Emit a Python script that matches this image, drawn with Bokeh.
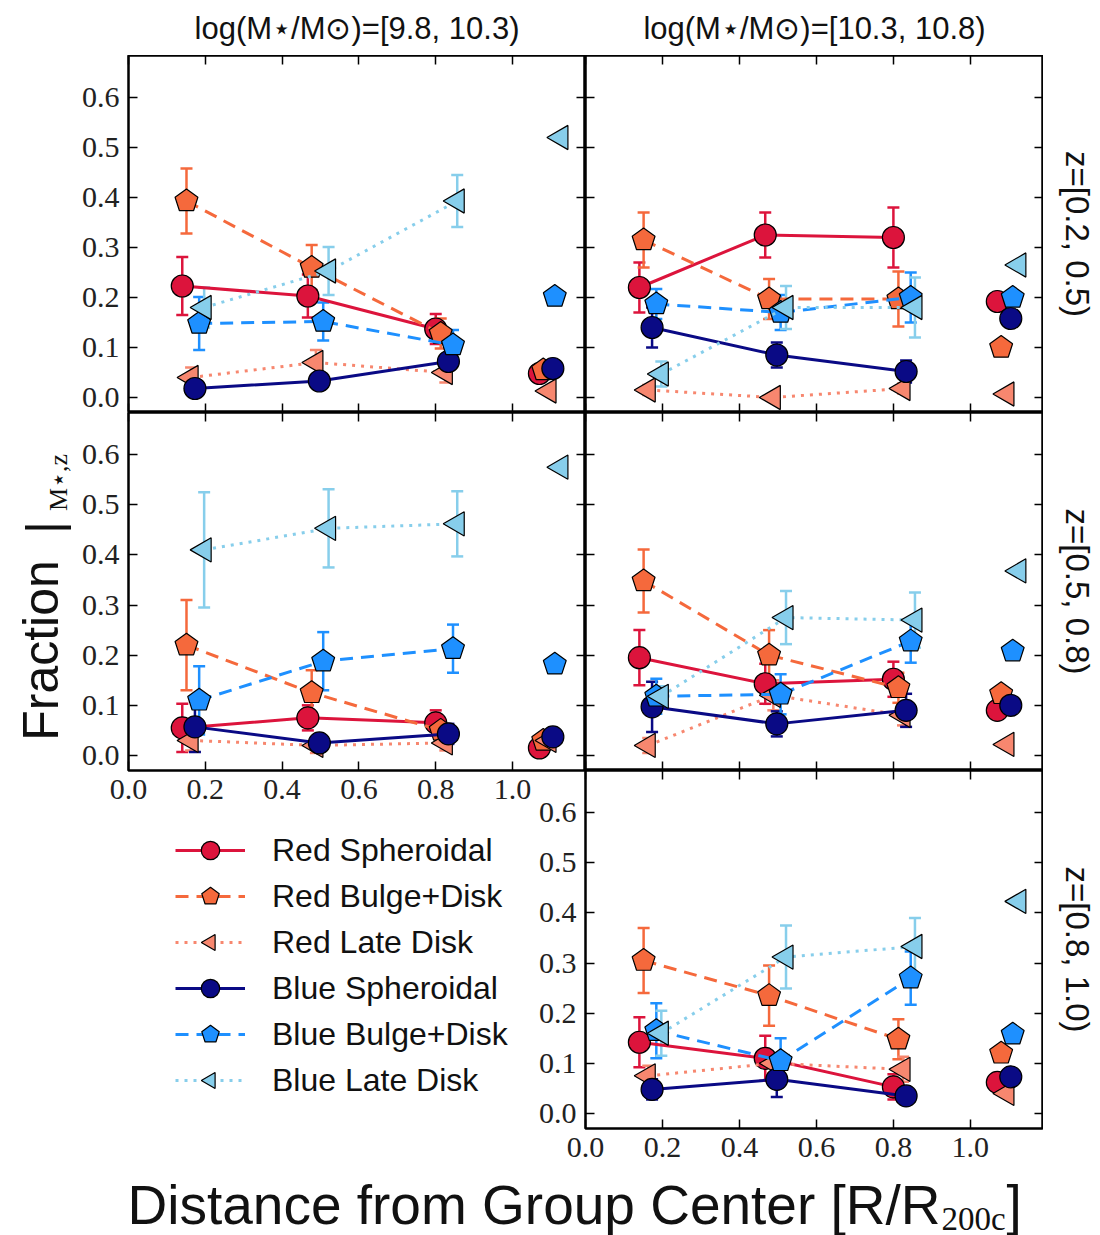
import math
from bokeh.plotting import figure
from bokeh.models import (Range1d, LinearAxis, FixedTicker, ColumnDataSource, Whisker,
                          TeeHead, Label, Legend, LegendItem, GridBox, PrintfTickFormatter)
from bokeh.embed import file_html
from bokeh.resources import INLINE

# ---------------- data ----------------
SERIES_KEYS = ["RS", "RB", "RL", "BS", "BB", "BL"]
SERIES_NAMES = ["Red Spheroidal", "Red Bulge+Disk", "Red Late Disk",
                "Blue Spheroidal", "Blue Bulge+Disk", "Blue Late Disk"]
X_TICKS = [0.0, 0.2, 0.4, 0.6, 0.8, 1.0]
Y_TICKS = [0.0, 0.1, 0.2, 0.3, 0.4, 0.5, 0.6]
MASS_BINS = ["log(M\u22c6/M\u2299)=[9.8, 10.3)", "log(M\u22c6/M\u2299)=[10.3, 10.8)"]
Z_BINS = ["z=[0.2, 0.5)", "z=[0.5, 0.8)", "z=[0.8, 1.0)"]
Y_LABEL = ["Fraction", "|", "M\u22c6,z"]
X_LABEL = ["Distance from Group Center [R/R", "200c", "]"]

# radial positions (R/R200c) of each series (4th point = outside groups)
X_RS = [0.140, 0.467, 0.800, 1.070]
X_RB = [0.151, 0.477, 0.813, 1.080]
X_RL = [0.163, 0.488, 0.825, 1.095]
X_BS = [0.173, 0.497, 0.833, 1.105]
X_BB = [0.184, 0.507, 0.845, 1.110]
X_BL = [0.197, 0.521, 0.856, 1.126]

# top-left: mass [9.8,10.3), z [0.2,0.5)
TL_FRAC = {"RS": [0.223, 0.203, 0.137, 0.048], "RB": [0.393, 0.260, 0.128, 0.055],
           "RL": [0.040, 0.070, 0.050, 0.013], "BS": [0.018, 0.033, 0.072, 0.058],
           "BB": [0.148, 0.152, 0.105, 0.202], "BL": [0.180, 0.253, 0.393, 0.520]}
TL_ERR = {"RS": [0.058, 0.043, 0.030], "RB": [0.065, 0.045, 0.030],
          "RL": [0.020, 0.025, 0.020], "BS": [0.010, 0.010, 0.012],
          "BB": [0.053, 0.038, 0.030], "BL": [0.040, 0.048, 0.052]}
# top-right: mass [10.3,10.8), z [0.2,0.5)
TR_FRAC = {"RS": [0.220, 0.325, 0.320, 0.192], "RB": [0.315, 0.197, 0.197, 0.100],
           "RL": [0.015, 0.000, 0.018, 0.007], "BS": [0.140, 0.085, 0.052, 0.158],
           "BB": [0.187, 0.170, 0.200, 0.200], "BL": [0.047, 0.180, 0.180, 0.265]}
TR_ERR = {"RS": [0.050, 0.045, 0.060], "RB": [0.055, 0.040, 0.055],
          "RL": [0.010, 0.008, 0.010], "BS": [0.040, 0.025, 0.022],
          "BB": [0.030, 0.035, 0.050], "BL": [0.025, 0.043, 0.060]}
# middle-left: mass [9.8,10.3), z [0.5,0.8)
ML_FRAC = {"RS": [0.055, 0.075, 0.065, 0.015], "RB": [0.220, 0.125, 0.050, 0.030],
           "RL": [0.030, 0.020, 0.025, 0.030], "BS": [0.057, 0.025, 0.043, 0.037],
           "BB": [0.110, 0.188, 0.213, 0.182], "BL": [0.410, 0.453, 0.462, 0.575]}
ML_ERR = {"RS": [0.048, 0.025, 0.025], "RB": [0.090, 0.045, 0.020],
          "RL": [0.020, 0.015, 0.015], "BS": [0.050, 0.015, 0.020],
          "BB": [0.068, 0.058, 0.048], "BL": [0.115, 0.078, 0.065]}
# middle-right: mass [10.3,10.8), z [0.5,0.8)
MR_FRAC = {"RS": [0.195, 0.143, 0.152, 0.090], "RB": [0.348, 0.200, 0.135, 0.123],
           "RL": [0.020, 0.120, 0.080, 0.022], "BS": [0.097, 0.063, 0.090, 0.100],
           "BB": [0.118, 0.122, 0.228, 0.208], "BL": [0.118, 0.275, 0.270, 0.368]}
MR_ERR = {"RS": [0.055, 0.040, 0.035], "RB": [0.063, 0.050, 0.030],
          "RL": [0.015, 0.030, 0.020], "BS": [0.050, 0.025, 0.033],
          "BB": [0.035, 0.040, 0.043], "BL": [0.020, 0.053, 0.055]}
# bottom-right: mass [10.3,10.8), z [0.8,1.0)
BR_FRAC = {"RS": [0.142, 0.110, 0.053, 0.062], "RB": [0.305, 0.235, 0.148, 0.120],
           "RL": [0.075, 0.100, 0.088, 0.040], "BS": [0.048, 0.068, 0.035, 0.073],
           "BB": [0.165, 0.105, 0.270, 0.158], "BL": [0.160, 0.312, 0.333, 0.423]}
BR_ERR = {"RS": [0.050, 0.045, 0.025], "RB": [0.065, 0.060, 0.040],
          "RL": [0.020, 0.020, 0.025], "BS": [0.020, 0.035, 0.012],
          "BB": [0.055, 0.045, 0.053], "BL": [0.045, 0.063, 0.057]}

X_POS = {"RS": X_RS, "RB": X_RB, "RL": X_RL, "BS": X_BS, "BB": X_BB, "BL": X_BL}

# ---------------- styles ----------------
COLORS = {"RS": "#DC143C", "RB": "#F5693C", "RL": "#F7876F",
          "BS": "#0A0A85", "BB": "#1E90FF", "BL": "#87CEEB"}
DASHES = {"RS": "solid", "RB": "13 8", "RL": "3 6", "BS": "solid", "BB": "13 8", "BL": "3 6"}
SHAPES = {"RS": "circle", "RB": "pentagon", "RL": "tri", "BS": "circle", "BB": "pentagon", "BL": "tri"}
TICK_FONT = "Liberation Serif"
SANS = "Liberation Sans"
X_LIMITS = (0.0, 1.19)
Y_LIMITS = (-0.03, 0.684)


def draw_marker(p, key, xs, ys):
    c = COLORS[key]
    if SHAPES[key] == "circle":
        return p.scatter(x=xs, y=ys, marker="circle", size=22, fill_color=c,
                         line_color="black", line_width=1.2)
    if SHAPES[key] == "pentagon":
        return p.ngon(x=xs, y=ys, radius=12, radius_units="screen", n=5,
                      fill_color=c, line_color="black", line_width=1.2)
    return p.ngon(x=xs, y=ys, radius=14, radius_units="screen", n=3, angle=math.pi / 2,
                  fill_color=c, line_color="black", line_width=1.2)


def add_axes(p, show_x, show_y):
    for loc, ticks, show in [("below", X_TICKS, show_x), ("above", X_TICKS, False),
                             ("left", Y_TICKS, show_y), ("right", Y_TICKS, False)]:
        ax = LinearAxis(ticker=FixedTicker(ticks=ticks, minor_ticks=[]),
                        formatter=PrintfTickFormatter(format="%.1f"))
        ax.axis_line_color = None
        ax.major_tick_in = 9
        ax.major_tick_out = 0
        ax.major_tick_line_width = 1.5
        ax.major_tick_line_color = "black"
        ax.minor_tick_line_color = None
        if show:
            ax.major_label_text_font = TICK_FONT
            ax.major_label_text_font_size = "30px"
            ax.major_label_text_color = "#222222"
            ax.major_label_standoff = 9
        else:
            ax.major_label_text_font_size = "0px"
            ax.major_label_text_color = None
            ax.major_label_standoff = 0
        p.add_layout(ax, loc)


def text_fig(width, height, x0, x1, y_bottom, y_top):
    f = figure(width=width, height=height, x_range=Range1d(x0, x1),
               y_range=Range1d(y_bottom, y_top), x_axis_type=None, y_axis_type=None,
               output_backend="svg", toolbar_location=None, min_border=0,
               frame_align=False)
    f.outline_line_color = None
    f.border_fill_alpha = 0
    f.background_fill_alpha = 0
    return f


def add_text(p, text, x, y, size, font=SANS, angle=0.0, align="center"):
    p.add_layout(Label(x=x, y=y, text=text, angle=angle, text_font=font,
                       text_font_size=f"{size}px", text_align=align,
                       text_baseline="middle", text_color="#111111"))


def make_panel(width, height, left, bottom, frac, err, show_x, show_y):
    p = figure(width=width, height=height, x_range=Range1d(*X_LIMITS),
               y_range=Range1d(*Y_LIMITS), x_axis_type=None, y_axis_type=None,
               output_backend="svg", toolbar_location=None,
               min_border_left=left, min_border_right=0, min_border_top=0,
               min_border_bottom=bottom)
    p.outline_line_color = "black"
    p.outline_line_width = 2.5
    p.border_fill_alpha = 0
    p.background_fill_color = "white"
    add_axes(p, show_x, show_y)
    for key in SERIES_KEYS:
        xs = X_POS[key]
        ys = frac[key]
        es = err[key]
        c = COLORS[key]
        src = ColumnDataSource(dict(x=xs[:3],
                                    lo=[y - e for y, e in zip(ys[:3], es)],
                                    hi=[y + e for y, e in zip(ys[:3], es)]))
        p.add_layout(Whisker(source=src, base="x", lower="lo", upper="hi",
                             dimension="height", line_color=c, line_width=2.5,
                             lower_head=TeeHead(size=12, line_color=c, line_width=2.5),
                             upper_head=TeeHead(size=12, line_color=c, line_width=2.5)))
        p.line(x=xs[:3], y=ys[:3], line_color=c, line_width=3, line_dash=DASHES[key])
        draw_marker(p, key, xs, ys)
    return p


# grid: cols 0-76 | 76-530 | 530-585 | 585-1043 | 1043-1100
#       rows 0-55 | 55-412 | 412-770 | 770-815 | 815-1173 | 1173-1235
TL = make_panel(509, 357, 52, 0, TL_FRAC, TL_ERR, False, True)
TR = make_panel(458, 357, 0, 0, TR_FRAC, TR_ERR, False, False)
ML = make_panel(509, 403, 52, 45, ML_FRAC, ML_ERR, True, True)
MR = make_panel(458, 358, 0, 0, MR_FRAC, MR_ERR, False, False)
BR = make_panel(513, 403, 55, 45, BR_FRAC, BR_ERR, True, True)

# column titles (page pixel coordinates, text centres)
TITLES = text_fig(1100, 55, 0, 1100, 55, 0)
add_text(TITLES, MASS_BINS[0], 356.5, 28, 31)
add_text(TITLES, MASS_BINS[1], 814, 28, 31)

# row labels
ZL = text_fig(57, 1118, 1043, 1100, 1173, 55)
add_text(ZL, Z_BINS[0], 1077, 233.5, 33, angle=-math.pi / 2)
add_text(ZL, Z_BINS[1], 1077, 591, 33, angle=-math.pi / 2)
add_text(ZL, Z_BINS[2], 1077, 949, 33, angle=-math.pi / 2)

# y label
YL = text_fig(76, 358, 0, 76, 770, 412)
add_text(YL, Y_LABEL[0], 40, 650, 50, angle=math.pi / 2)
add_text(YL, Y_LABEL[1], 43, 527, 50, angle=math.pi / 2)
add_text(YL, Y_LABEL[2], 58, 482, 26, font=TICK_FONT, angle=math.pi / 2)

# x label
XL = text_fig(1100, 62, 0, 1100, 1235, 1173)
add_text(XL, X_LABEL[0], 127, 1204, 55, align="left")
add_text(XL, X_LABEL[1], 941, 1218, 33, font=TICK_FONT, align="left")
add_text(XL, X_LABEL[2], 1006, 1204, 55, align="left")

# legend figure (renderers hold the bottom-right data but lie outside its view)
LEG = text_fig(530, 358, -2, -1, -2, -1)
items = []
for key, name in zip(SERIES_KEYS, SERIES_NAMES):
    rl = LEG.line(x=X_POS[key][:3], y=BR_FRAC[key][:3], line_color=COLORS[key],
                  line_width=3, line_dash=DASHES[key])
    rm = draw_marker(LEG, key, X_POS[key], BR_FRAC[key])
    items.append(LegendItem(label=name, renderers=[rl, rm]))
legend = Legend(items=items, location=(175, 70), glyph_width=70, glyph_height=46,
                spacing=0, padding=0, margin=0, label_standoff=27,
                label_text_font=SANS, label_text_font_size="32px",
                label_text_color="#111111", border_line_alpha=0,
                background_fill_alpha=0)
LEG.add_layout(legend)

grid = GridBox(children=[(TITLES, 0, 0, 1, 5),
                         (TL, 1, 1, 1, 2), (TR, 1, 3, 1, 1), (ZL, 1, 4, 4, 1),
                         (YL, 2, 0, 1, 1), (ML, 2, 1, 2, 2), (MR, 2, 3, 1, 1),
                         (LEG, 4, 0, 1, 2), (BR, 3, 2, 2, 2),
                         (XL, 5, 0, 1, 5)],
               rows=["55px", "357px", "358px", "45px", "358px", "62px"],
               cols=["76px", "454px", "55px", "458px", "57px"], spacing=0)

open("out.html", "w").write(file_html(grid, INLINE))
